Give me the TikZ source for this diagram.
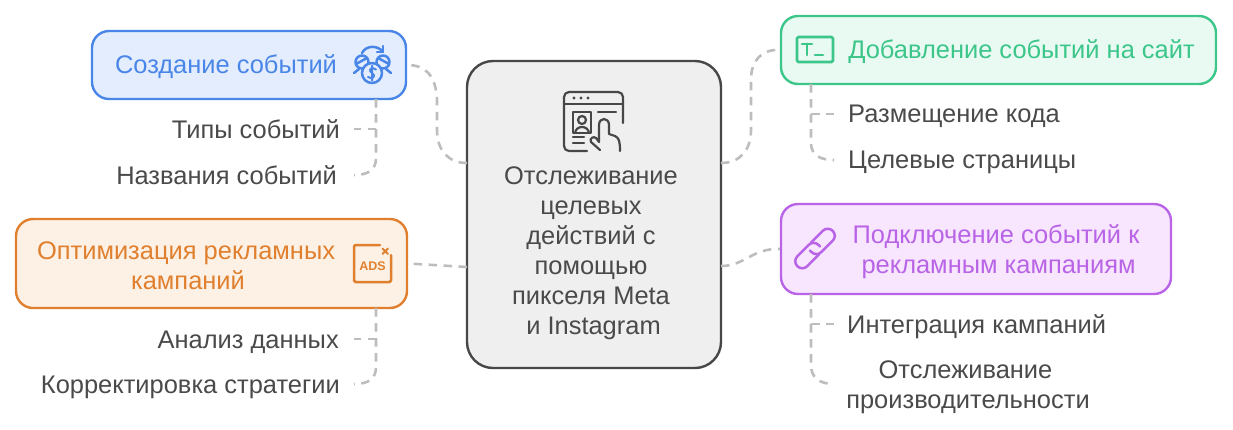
\documentclass[tikz,border=0pt]{standalone}
\usepackage{fontspec}
\setmainfont{Liberation Sans}
\definecolor{blueL}{HTML}{4A86E8}\definecolor{blueF}{HTML}{E3EDFD}
\definecolor{greenL}{HTML}{3CC68A}\definecolor{greenF}{HTML}{E9FAF2}
\definecolor{purpL}{HTML}{B964E6}\definecolor{purpF}{HTML}{F7E6FE}
\definecolor{oranL}{HTML}{E0802F}\definecolor{oranF}{HTML}{FDF1E5}
\definecolor{midL}{HTML}{474747}\definecolor{midF}{HTML}{EFEFEF}
\definecolor{txt}{HTML}{4A4A4A}\definecolor{conn}{HTML}{BDBDBD}
\tikzset{x=1pt,y=-1pt,
 boxn/.style={draw,line width=2.4pt,rounded corners=17pt,minimum height=#1,inner sep=0pt},
 lab/.style={text=txt,font=\fontsize{25.45}{30}\selectfont,inner sep=0pt,align=center},
 one/.style={lab,text height=23pt,text depth=6pt},
 conline/.style={draw=conn,line width=2.6pt,dash pattern=on 8.5pt off 6.5pt},
 ico/.style={line width=2.5pt,line cap=round,line join=round}}
\begin{document}
\begin{tikzpicture}
\useasboundingbox (0,0) rectangle (1233,429);
% boxes
\node[boxn=68pt,draw=blueL,fill=blueF,minimum width=314pt] (b1) at (249,65) {};
\node[boxn=68pt,draw=greenL,fill=greenF,minimum width=435pt] (b2) at (998.5,50) {};
\node[boxn=90pt,draw=purpL,fill=purpF,minimum width=390pt] (b3) at (976,249) {};
\node[boxn=89pt,draw=oranL,fill=oranF,minimum width=391pt] (b4) at (211.5,263.5) {};
\node[boxn=307pt,draw=midL,fill=midF,minimum width=254pt,rounded corners=26pt] (mid) at (594,214.5) {};
% anchors for connectors
\coordinate (m1) at (467,163); \coordinate (m2) at (721,163);
\coordinate (m3) at (721,266); \coordinate (m4) at (467,267);
% connectors
\draw[conline] (m1) .. controls (448,163) and (437,150) .. (437,130) -- (437,100) .. controls (436,75) and (425,65) .. (b1.east);
\draw[conline] (m2) .. controls (740,163) and (751,150) .. (751,130) -- (751,80) .. controls (751,60) and (762,49) .. (b2.west);
\draw[conline] (m3) .. controls (745,266) and (752,248) .. (b3.west);
\draw[conline] (m4) -- (b4.east);
\coordinate (c1) at (376,99); \coordinate (c1a) at (376,129); \coordinate (c2) at (376,308); \coordinate (c2a) at (376,339);
\coordinate (c3) at (811,84); \coordinate (c3a) at (811,114); \coordinate (c4) at (811,294); \coordinate (c4a) at (811,324);
\coordinate (e1) at (354,129); \coordinate (e2) at (354,175); \coordinate (e3) at (354,339); \coordinate (e4) at (354,384);
\coordinate (e5) at (834,114); \coordinate (e6) at (834,160); \coordinate (e7) at (834,324); \coordinate (e8) at (834,384);
% text nodes
\node[one,text=blueL] (t1) at (226,65) {Создание событий};
\node[one,text=greenL] (t2) at (1021.5,50) {Добавление событий на сайт};
\node[lab,text=purpL] (t3) at (996,252) {Подключение событий к\\\hspace*{5pt}рекламным кампаниям};
\node[lab,text=oranL] (t4) at (186,266) {Оптимизация рекламных\\\hspace*{4pt}кампаний};
\node[lab,text=txt] (tm) at (591,253) {Отслеживание\\целевых\\действий с\\помощью\\пикселя Meta\\\hspace*{5pt}и Instagram};
\node[one,anchor=east] (a1) at (340,129.5) {Типы событий};
\node[one,anchor=east] (a2) at (337,175.5) {Названия событий};
\node[one,anchor=east] (a3) at (339,340) {Анализ данных};
\node[one,anchor=east] (a4) at (340,385) {Корректировка стратегии};
\node[one,anchor=west] (g1) at (848,114) {Размещение кода};
\node[one,anchor=west] (g2) at (848,160) {Целевые страницы};
\node[one,anchor=west] (p1) at (847,325) {Интеграция кампаний};
\node[lab] (p2) at (968,387.5) {\hspace*{-5pt}Отслеживание\\производительности};
% child connectors
\draw[conline] (c1) -- (376,158) .. controls (376,170) and (368,175) .. (e2);
\draw[conline] (c1a) -- (e1);
\draw[conline] (c2) -- (376,367) .. controls (376,379) and (368,384) .. (e4);
\draw[conline] (c2a) -- (e3);
\draw[conline] (c3) -- (811,143) .. controls (811,155) and (820,160) .. (e6);
\draw[conline] (c3a) -- (e5);
\draw[conline] (c4) -- (811,365) .. controls (811,378) and (820,384) .. (e8);
\draw[conline] (c4a) -- (e7);
% icon blue
\begin{scope}[ico,draw=blueL]
\draw (362,62) circle (6.5) (383,62) circle (6.5);
\draw (356,64) -- (367,58) (378,58) -- (389,64);
\draw (354,73) -- (359,69) (386,69) -- (391,73);
\draw[fill=blueF] (372,73) circle (10);
\draw (362,53) .. controls (366,45) and (378,45) .. (383,52);
\draw (377,52) -- (383,52) -- (383,46);
\draw[line width=2pt] (376,69.5) .. controls (372,66) and (367,70) .. (372,73) .. controls (377,76) and (372,80) .. (368,77) (372,65.5) -- (372,80.5);
\end{scope}
% icon green
\begin{scope}[ico,draw=greenL,line width=2.8pt]
\draw[rounded corners=1.5pt] (797,37) rectangle (833,62);
\draw (802,44) -- (812,44) (807,44) -- (807,55) (815,55) -- (823,55);
\end{scope}
% icon purple
\begin{scope}[ico,draw=purpL,shift={(815,248.5)},rotate=45]
\draw[rounded corners=6.9pt] (-1,7) -- (-25,7) -- (-25,-7) -- (5,-7) -- (5,2);
\draw[rounded corners=6.9pt] (1,-7) -- (25,-7) -- (25,7) -- (-5,7) -- (-5,-2);
\end{scope}
% icon orange
\begin{scope}[ico,draw=oranL]
\draw[rounded corners=1.5pt] (380,245) -- (354,245) -- (354,282) -- (391,282) -- (391,255);
\draw[line width=2pt] (382.5,248.5) -- (388,254) (388,248.5) -- (382.5,254);
\node[text=oranL,font=\bfseries\fontsize{12.5}{12.5}\selectfont,inner sep=0pt] (adsl) at (372.5,266) {ADS};
\end{scope}
% icon centre
\begin{scope}[ico,draw=midL,line width=2.2pt]
\draw[rounded corners=5pt] (587,151) -- (564,151) -- (564,92) -- (623,92) -- (623,123);
\draw (564,104) -- (623,104);
\fill[midL] (574,98) circle (1.7) (581,98) circle (1.7) (588,98) circle (1.7);
\draw (573,112) rectangle (591,133);
\draw (582,120) circle (4);
\draw (575,133) .. controls (576,125) and (588,125) .. (589,133);
\draw (598,112) -- (616,112) (573,137) -- (584,137) (573,143) -- (584,143);
\draw (600,150) -- (591,142) .. controls (589,138) and (594,136) .. (596,138) -- (599,142) -- (599,125) .. controls (599,117) and (609,117) .. (609,125) -- (609,134) -- (615,136) .. controls (619,138) and (620,141) .. (620,151);
\end{scope}
\end{tikzpicture}
\end{document}
